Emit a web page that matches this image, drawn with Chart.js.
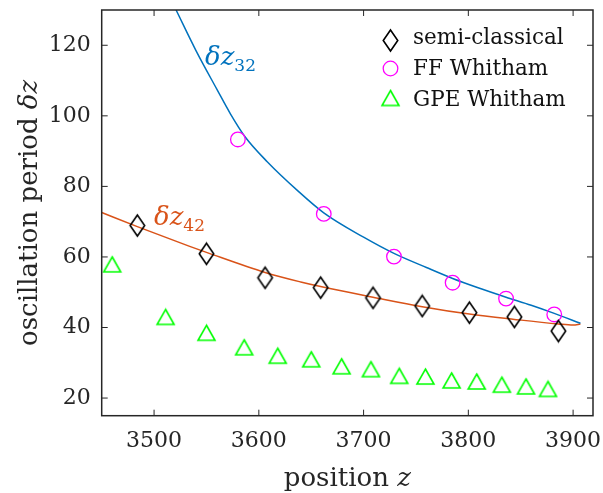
<!DOCTYPE html>
<html>
<head>
<meta charset="utf-8">
<script src="https://cdn.jsdelivr.net/npm/chart.js@4"></script>
<style>
  html, body { margin: 0; padding: 0; background: #fff; }
  #wrap { width: 603px; height: 493px; }
</style>
</head>
<body>
<div id="wrap"><canvas id="chart" width="603" height="493"></canvas></div>
<script>
// ==================== Data ====================
const xTicks = [3500, 3600, 3700, 3800, 3900];
const yTicks = [20, 40, 60, 80, 100, 120];

// semi-classical (diamonds)
const semiX = [3484, 3550, 3606, 3659, 3709, 3756, 3801, 3844, 3886];
const semiY = [68.9, 60.9, 54.1, 51.3, 48.4, 46.1, 44.2, 43.0, 39.0];
// FF Whitham (circles)
const ffX = [3580, 3662, 3729, 3785, 3836, 3882];
const ffY = [93.3, 72.2, 60.1, 52.7, 48.2, 43.7];
// GPE Whitham (triangles)
const gpeX = [3460, 3511, 3550, 3586, 3618, 3650, 3679, 3707, 3734, 3759, 3784, 3808, 3832, 3855, 3876];
const gpeY = [57.9, 43.0, 38.5, 34.4, 32.0, 31.0, 29.0, 28.2, 26.3, 26.1, 25.0, 24.7, 23.8, 23.3, 22.6];
// delta z_32 curve (blue)
const dz32X = [3521, 3540, 3560, 3573, 3587, 3608, 3637, 3662, 3700, 3729, 3760, 3785, 3810, 3836, 3860, 3882, 3907];
const dz32Y = [130, 118.5, 107.5, 100.5, 94.0, 87.0, 78.8, 72.5, 65.6, 61.0, 57.0, 53.9, 51.2, 48.6, 46.3, 44.0, 41.2];
// delta z_42 curve (orange)
const dz42X = [3450, 3484, 3534, 3550, 3606, 3640, 3659, 3709, 3756, 3801, 3844, 3886, 3900, 3907];
const dz42Y = [72.6, 68.6, 63.0, 61.3, 55.6, 52.9, 51.6, 48.6, 45.9, 43.8, 42.3, 41.0, 40.7, 41.0];

const pts = (xs, ys) => xs.map((x, i) => ({x: x, y: ys[i]}));

// ==================== Styles ====================
const INK = '#262626';
const BLUE = '#0072BD';
const ORANGE = '#D95319';
const MAGENTA = '#FF00FF';
const LIME = '#00FF00';
const SERIF = '"DejaVu Serif", serif';

function markerCanvas(kind, w, h, color, lw) {
    const c = document.createElement('canvas');
    c.width = Math.ceil(w + lw + 2);
    c.height = Math.ceil(h + lw + 2);
    const g = c.getContext('2d');
    const cx = c.width / 2, cy = c.height / 2;
    g.strokeStyle = color;
    g.lineWidth = lw;
    g.lineJoin = 'miter';
    g.beginPath();
    if (kind === 'diamond') {
        g.moveTo(cx, cy - h / 2);
        g.lineTo(cx + w / 2, cy);
        g.lineTo(cx, cy + h / 2);
        g.lineTo(cx - w / 2, cy);
    } else {
        g.moveTo(cx, cy - h / 2);
        g.lineTo(cx + w / 2, cy + h / 2);
        g.lineTo(cx - w / 2, cy + h / 2);
    }
    g.closePath();
    g.stroke();
    return c;
}

const diamondImg = markerCanvas('diamond', 14.5, 21, '#000', 1.6);
const triImg = markerCanvas('tri', 17, 15, LIME, 1.6);

// ==================== Helpers ====================
function drawRuns(ctx, runs, x, y, align) {
    let total = 0;
    runs.forEach(r => { ctx.font = r.f; total += ctx.measureText(r.t).width; });
    let cx = align === 'center' ? x - total / 2 : x;
    ctx.textAlign = 'left';
    ctx.textBaseline = 'alphabetic';
    runs.forEach(r => {
        ctx.font = r.f;
        ctx.fillText(r.t, cx, y + (r.dy || 0));
        cx += ctx.measureText(r.t).width;
    });
}

function noPad(s) {
    s.paddingLeft = 0; s.paddingRight = 0; s.paddingTop = 0; s.paddingBottom = 0;
}

const decor = {
    id: 'decor',
    afterDraw(chart) {
        const ctx = chart.ctx;
        const a = chart.chartArea;
        const xs = chart.scales.x, ys = chart.scales.y;
        ctx.save();

        // box
        ctx.strokeStyle = INK;
        ctx.lineWidth = 1.5;
        ctx.strokeRect(a.left, a.top, a.right - a.left, a.bottom - a.top);

        // inward ticks
        ctx.lineWidth = 1;
        ctx.beginPath();
        xTicks.forEach(v => {
            const p = xs.getPixelForValue(v);
            ctx.moveTo(p, a.bottom); ctx.lineTo(p, a.bottom - 6);
            ctx.moveTo(p, a.top); ctx.lineTo(p, a.top + 6);
        });
        yTicks.forEach(v => {
            const p = ys.getPixelForValue(v);
            ctx.moveTo(a.left, p); ctx.lineTo(a.left + 6, p);
            ctx.moveTo(a.right, p); ctx.lineTo(a.right - 6, p);
        });
        ctx.stroke();

        // axis titles
        ctx.fillStyle = INK;
        const big = '26px ' + SERIF, bigIt = 'italic 26px ' + SERIF;
        drawRuns(ctx, [{t: 'position ', f: big}, {t: 'z', f: bigIt}], (a.left + a.right) / 2, 486, 'center');
        ctx.save();
        ctx.translate(37, (a.top + a.bottom) / 2);
        ctx.rotate(-Math.PI / 2);
        drawRuns(ctx, [{t: 'oscillation period ', f: big}, {t: '\u03B4z', f: bigIt}], 0, 0, 'center');
        ctx.restore();

        // curve labels
        const lab = 'italic 26px ' + SERIF, sub = '17px ' + SERIF;
        ctx.fillStyle = BLUE;
        drawRuns(ctx, [{t: '\u03B4z', f: lab}, {t: '32', f: sub, dy: 6}], 205, 65);
        ctx.fillStyle = ORANGE;
        drawRuns(ctx, [{t: '\u03B4z', f: lab}, {t: '42', f: sub, dy: 6}], 154, 225);

        // legend
        const lf = '21.5px ' + SERIF;
        const lx = 390.5, tx = 413;
        ctx.drawImage(diamondImg, lx - diamondImg.width / 2, 40.5 - diamondImg.height / 2);
        ctx.strokeStyle = MAGENTA;
        ctx.lineWidth = 1.3;
        ctx.beginPath();
        ctx.arc(lx, 68.5, 7.3, 0, Math.PI * 2);
        ctx.stroke();
        ctx.drawImage(triImg, lx - triImg.width / 2, 98 - triImg.height / 2);
        ctx.fillStyle = '#111';
        drawRuns(ctx, [{t: 'semi-classical', f: lf}], tx, 43.5);
        drawRuns(ctx, [{t: 'FF Whitham', f: lf}], tx, 75);
        drawRuns(ctx, [{t: 'GPE Whitham', f: lf}], tx, 105.5);

        ctx.restore();
    }
};

// ==================== Chart ====================
new Chart(document.getElementById('chart').getContext('2d'), {
    type: 'scatter',
    data: {
        datasets: [
            {label: 'semi-classical', data: pts(semiX, semiY), pointStyle: diamondImg, pointRadius: 9, showLine: false, order: 1},
            {label: 'FF Whitham', data: pts(ffX, ffY), pointStyle: 'circle', pointRadius: 7.3, borderWidth: 1.3,
             borderColor: MAGENTA, backgroundColor: 'rgba(0,0,0,0)', showLine: false, order: 1},
            {label: 'GPE Whitham', data: pts(gpeX, gpeY), pointStyle: triImg, pointRadius: 9, showLine: false, order: 1},
            {label: 'dz32', data: pts(dz32X, dz32Y), showLine: true, pointRadius: 0, borderColor: BLUE, borderWidth: 1.5,
             cubicInterpolationMode: 'monotone', fill: false, order: 2},
            {label: 'dz42', data: pts(dz42X, dz42Y), showLine: true, pointRadius: 0, borderColor: ORANGE, borderWidth: 1.5,
             cubicInterpolationMode: 'monotone', fill: false, order: 2}
        ]
    },
    options: {
        responsive: false,
        animation: false,
        devicePixelRatio: 1,
        layout: {padding: {top: 8, right: 9.7, left: 0, bottom: 0}},
        plugins: {legend: {display: false}, tooltip: {enabled: false}},
        scales: {
            x: {
                type: 'linear', min: 3450, max: 3919,
                grid: {display: false, drawTicks: false},
                border: {display: false},
                ticks: {color: INK, font: {family: SERIF, size: 22}, padding: 12, maxRotation: 0,
                        callback: v => String(v)},
                afterBuildTicks: s => { s.ticks = xTicks.map(v => ({value: v})); },
                afterFit: s => { s.height = 77.3; noPad(s); }
            },
            y: {
                type: 'linear', min: 15, max: 130,
                grid: {display: false, drawTicks: false},
                border: {display: false},
                ticks: {color: INK, font: {family: SERIF, size: 22}, padding: 11,
                        callback: v => String(v)},
                afterBuildTicks: s => { s.ticks = yTicks.map(v => ({value: v})); },
                afterFit: s => { s.width = 101.7; noPad(s); }
            }
        }
    },
    plugins: [decor]
});
</script>
</body>
</html>
